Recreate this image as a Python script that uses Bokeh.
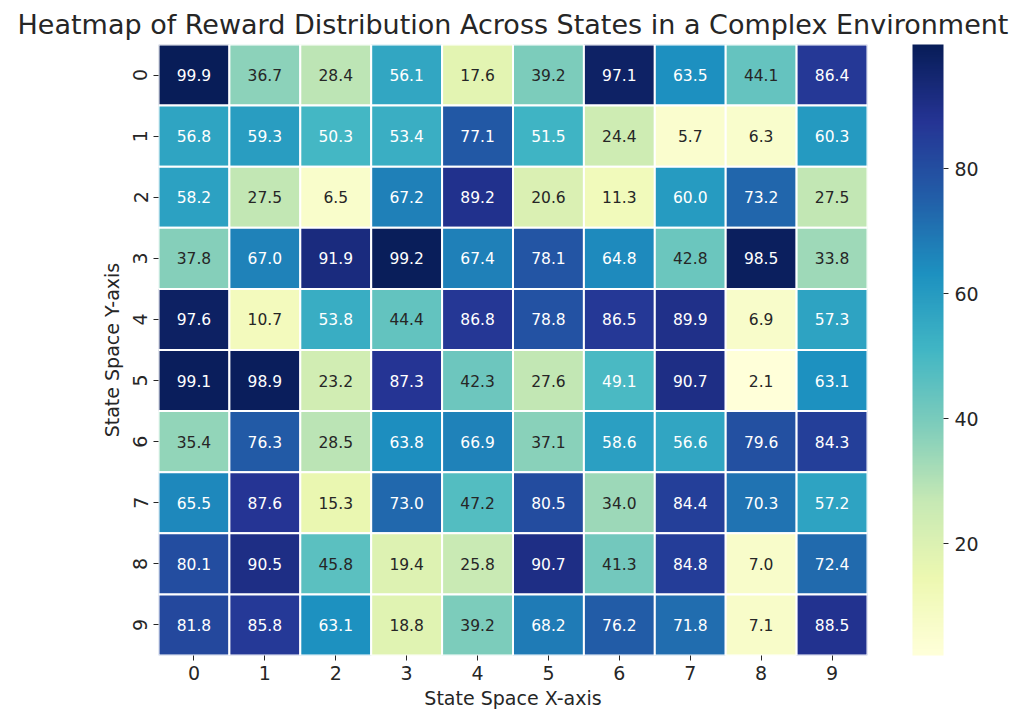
import numpy as np
from bokeh.plotting import figure
from bokeh.models import (ColumnDataSource, LinearColorMapper, ColorBar, FixedTicker,
                          Range1d, Title)
from bokeh.transform import transform
from bokeh.core.properties import value
from bokeh.embed import file_html
from bokeh.resources import INLINE

# ---------------- data ----------------
x_labels = ["0", "1", "2", "3", "4", "5", "6", "7", "8", "9"]
y_labels = ["0", "1", "2", "3", "4", "5", "6", "7", "8", "9"]

row0 = [99.9, 36.7, 28.4, 56.1, 17.6, 39.2, 97.1, 63.5, 44.1, 86.4]
row1 = [56.8, 59.3, 50.3, 53.4, 77.1, 51.5, 24.4, 5.7, 6.3, 60.3]
row2 = [58.2, 27.5, 6.5, 67.2, 89.2, 20.6, 11.3, 60.0, 73.2, 27.5]
row3 = [37.8, 67.0, 91.9, 99.2, 67.4, 78.1, 64.8, 42.8, 98.5, 33.8]
row4 = [97.6, 10.7, 53.8, 44.4, 86.8, 78.8, 86.5, 89.9, 6.9, 57.3]
row5 = [99.1, 98.9, 23.2, 87.3, 42.3, 27.6, 49.1, 90.7, 2.1, 63.1]
row6 = [35.4, 76.3, 28.5, 63.8, 66.9, 37.1, 58.6, 56.6, 79.6, 84.3]
row7 = [65.5, 87.6, 15.3, 73.0, 47.2, 80.5, 34.0, 84.4, 70.3, 57.2]
row8 = [80.1, 90.5, 45.8, 19.4, 25.8, 90.7, 41.3, 84.8, 7.0, 72.4]
row9 = [81.8, 85.8, 63.1, 18.8, 39.2, 68.2, 76.2, 71.8, 7.1, 88.5]
rows = [row0, row1, row2, row3, row4, row5, row6, row7, row8, row9]

colorbar_ticks = [20, 40, 60, 80]

title_text = "Heatmap of Reward Distribution Across States in a Complex Environment"
x_title = "State Space X-axis"
y_title = "State Space Y-axis"

# ---------------- palette (YlGnBu, light -> dark) ----------------
base = ['#ffffd9', '#edf8b1', '#c7e9b4', '#7fcdbb', '#41b6c4',
        '#1d91c0', '#225ea8', '#253494', '#081d58']
base_rgb = np.array([[int(c[i:i + 2], 16) for i in (1, 3, 5)] for c in base], dtype=float)
t_base = np.linspace(0, 1, len(base))
t_new = np.linspace(0, 1, 256)
pal_rgb = np.stack([np.interp(t_new, t_base, base_rgb[:, k]) for k in range(3)], axis=1)
palette = ['#%02x%02x%02x' % tuple(int(round(v)) for v in c) for c in pal_rgb]

all_vals = [v for r in rows for v in r]
vmin, vmax = min(all_vals), max(all_vals)
mapper = LinearColorMapper(palette=palette, low=vmin, high=vmax)


def lum(rgb):
    c = np.array(rgb) / 255.0
    c = np.where(c <= 0.03928, c / 12.92, ((c + 0.055) / 1.055) ** 2.4)
    return 0.2126 * c[0] + 0.7152 * c[1] + 0.0722 * c[2]


xs, ys, vals, labels, tcolors = [], [], [], [], []
for i, r in enumerate(rows):
    for j, v in enumerate(r):
        xs.append(j)
        ys.append(i)
        vals.append(v)
        labels.append(f"{v:.1f}")
        idx = min(255, int((v - vmin) / (vmax - vmin) * 256))
        tcolors.append("#262626" if lum(pal_rgb[idx]) > 0.408 else "#ffffff")

src = ColumnDataSource(dict(x=xs, y=ys, v=vals, label=labels, tc=tcolors))

FONT = "DejaVu Sans"
DARK = "#262626"

p = figure(width=1016, height=714, output_backend="svg", toolbar_location=None,
           x_range=Range1d(-0.5, 9.5), y_range=Range1d(9.5, -0.5),
           min_border_left=158, min_border_right=149, min_border_top=44,
           min_border_bottom=59)
p.title = Title(text=title_text, align="center", text_font=FONT,
                text_font_size="27px", text_font_style="normal",
                text_color=DARK, standoff=10)

p.rect(x="x", y="y", width=1, height=1, source=src,
       fill_color=transform("v", mapper), line_color="white", line_width=2)
p.text(x="x", y="y", text="label", source=src, text_color="tc",
       text_align="center", text_baseline="middle",
       text_font=value(FONT), text_font_size="15.5px")

for ax in (p.xaxis[0], p.yaxis[0]):
    ax.ticker = FixedTicker(ticks=list(range(10)))
    ax.axis_line_color = None
    ax.major_tick_in = 0
    ax.major_tick_out = 5
    ax.major_tick_line_color = DARK
    ax.minor_tick_line_color = None
    ax.major_label_text_font = FONT
    ax.major_label_text_font_size = "19px"
    ax.major_label_text_color = DARK
    ax.axis_label_text_font = FONT
    ax.axis_label_text_font_size = "19px"
    ax.axis_label_text_font_style = "normal"
    ax.axis_label_text_color = DARK

p.xaxis[0].major_label_overrides = {i: s for i, s in enumerate(x_labels)}
p.yaxis[0].major_label_overrides = {i: s for i, s in enumerate(y_labels)}
p.yaxis[0].major_label_orientation = "vertical"
p.xaxis[0].axis_label = x_title
p.yaxis[0].axis_label = y_title
p.xaxis[0].major_label_standoff = 5
p.yaxis[0].major_label_standoff = 6
p.xaxis[0].axis_label_standoff = 4
p.yaxis[0].axis_label_standoff = 8

p.xgrid.grid_line_color = None
p.ygrid.grid_line_color = None
p.outline_line_color = None

cb = ColorBar(color_mapper=mapper, ticker=FixedTicker(ticks=colorbar_ticks),
              width=31, height=611, padding=0, margin=0, location=(45, 0),
              border_line_color=None, bar_line_color=None,
              major_tick_in=0, major_tick_out=5, major_tick_line_color=DARK,
              minor_tick_line_color=None,
              major_label_text_font=FONT, major_label_text_font_size="19px",
              major_label_text_color=DARK, label_standoff=6)
p.add_layout(cb, "right")

open("out.html", "w").write(file_html(p, INLINE))
